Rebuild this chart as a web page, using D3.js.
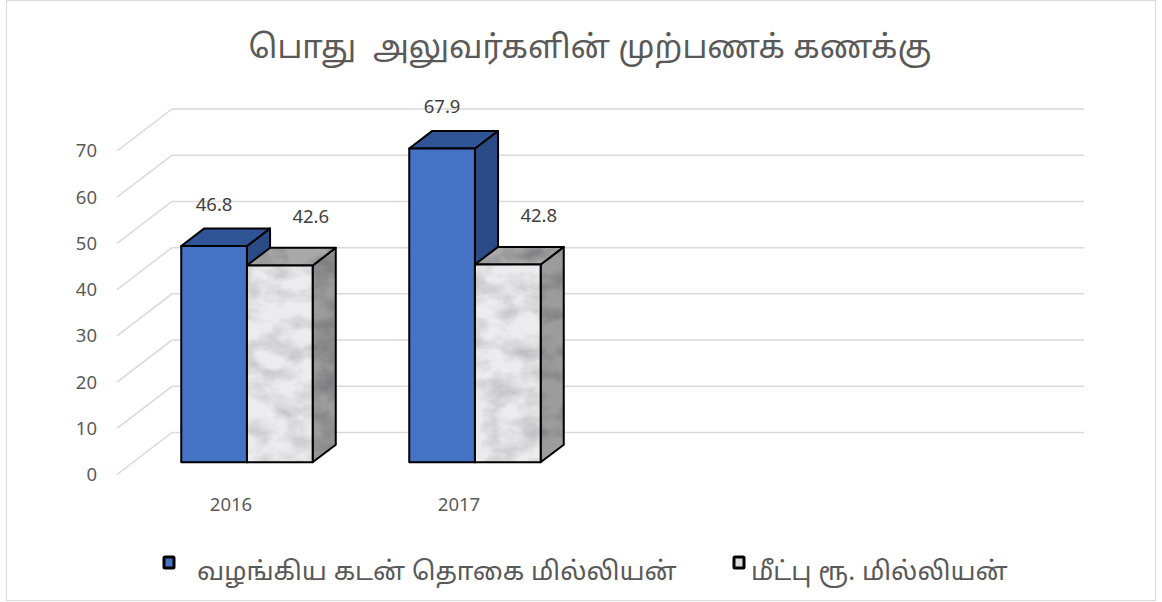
<!DOCTYPE html>
<html lang="ta">
<head>
<meta charset="utf-8">
<script src="https://cdn.jsdelivr.net/npm/d3@7"></script>
<title>பொது அலுவர்களின் முற்பணக் கணக்கு</title>
<style>
  body { margin: 0; background: #fff; }
  svg text { font-family: "Noto Sans Tamil", "Noto Sans", "Open Sans", sans-serif; fill: #595959; white-space: pre; }
</style>
</head>
<body>
<svg width="1162" height="602"></svg>
<script>
// data
var categories = ["2016", "2017", "", ""];
var seriesNames = ["வழங்கிய கடன் தொகை மில்லியன்", "மீட்பு ரூ. மில்லியன்"];
var loanValues = [46.8, 67.9];
var repayValues = [42.6, 42.8];
var yTicks = [0, 10, 20, 30, 40, 50, 60, 70];
var title = "பொது  அலுவர்களின் முற்பணக் கணக்கு";

var svg = d3.select("svg");

// chart frame
svg.append("rect")
  .attr("x", 6.5).attr("y", 0.5)
  .attr("width", 1149).attr("height", 600)
  .attr("fill", "#fff").attr("stroke", "#d9d9d9");

// marble blotches: dark noise with alpha, laid over a flat grey
var defs = svg.append("defs");
var f = defs.append("filter").attr("id", "marble")
  .attr("x", 0).attr("y", 0).attr("width", 1).attr("height", 1)
  .attr("color-interpolation-filters", "sRGB");
f.append("feTurbulence").attr("type", "fractalNoise")
  .attr("baseFrequency", "0.035 0.05").attr("numOctaves", 4).attr("seed", 11).attr("result", "n");
f.append("feColorMatrix").attr("in", "n").attr("type", "matrix")
  .attr("values", "0 0 0 0 0.25  0 0 0 0 0.25  0 0 0 0 0.27  1.6 0 0 0 -0.6").attr("result", "g");
f.append("feComposite").attr("in", "g").attr("in2", "SourceGraphic").attr("operator", "in");

// fake 3d: depth offsets of the walls
var DX = 55, DY = 42;
var x0 = d3.scaleBand().domain(d3.range(categories.length)).range([117, 1029]);
var x1 = d3.scaleBand().domain([0, 1]).range([0, x0.bandwidth()]).paddingOuter(0.735);
var y = d3.scaleLinear().domain([0, 70]).range([474.5, 151]);

function P(x, v, z) { return [x + z * DX, y(v) - z * DY]; }

var grid = svg.append("g");
yTicks.forEach(function(t) {
  var a = P(x0.range()[0], t, 0), b = P(x0.range()[0], t, 1), c = P(x0.range()[1], t, 1);
  grid.append("polyline")
    .attr("points", [a, b, c].map(function(p) { return p.join(","); }).join(" "))
    .attr("fill", "none").attr("stroke", "#d9d9d9").attr("stroke-width", 1.5);
});

// y axis labels
svg.append("g").selectAll("text").data(yTicks).enter().append("text")
  .attr("x", 97).attr("y", function(d) { return y(d); })
  .attr("dy", "0.35em").attr("text-anchor", "end")
  .attr("font-size", 18.5).text(function(d) { return d; });

// x axis labels
svg.append("g").selectAll("text").data(categories).enter().append("text")
  .attr("x", function(d, i) { return x0(i) + x0.bandwidth() / 2; })
  .attr("y", 505).attr("dy", "0.35em").attr("text-anchor", "middle")
  .attr("font-size", 18.5).text(function(d) { return d; });

// bars
var z0 = 0.29, z1 = 0.71;
var styles = [
  { front: "#4472c4", top: "#2f5597", side: "#2b4b86", tex: [0, 0, 0] },
  { front: "#ececee", top: "#a9a9a9", side: "#9c9c9c", tex: [0.45, 0.45, 0.3] }
];
var labelOff = [[0, -42], [31, -49]];

var bars = [];
categories.forEach(function(c, i) {
  [loanValues, repayValues].forEach(function(vals, s) {
    if (vals[i] != null) bars.push({ i: i, s: s, v: vals[i] });
  });
});

function poly(g, pts, fill, tex) {
  var str = pts.map(function(p) { return p.join(","); }).join(" ");
  g.append("polygon").attr("points", str).attr("fill", fill);
  if (tex > 0) {
    g.append("polygon").attr("points", str).attr("fill", "#000")
      .attr("filter", "url(#marble)").attr("opacity", tex);
  }
  g.append("polygon").attr("points", str)
    .attr("fill", "none").attr("stroke", "#000").attr("stroke-width", 2)
    .attr("stroke-linejoin", "round");
}

var barG = svg.append("g");
bars.forEach(function(d) {
  var xl = x0(d.i) + x1(d.s), xr = xl + x1.bandwidth();
  var st = styles[d.s];
  var g = barG.append("g");
  // side
  poly(g, [P(xr, 0, z0), P(xr, 0, z1), P(xr, d.v, z1), P(xr, d.v, z0)], st.side, st.tex[0]);
  // top
  poly(g, [P(xl, d.v, z0), P(xl, d.v, z1), P(xr, d.v, z1), P(xr, d.v, z0)], st.top, st.tex[1]);
  // front
  poly(g, [P(xl, 0, z0), P(xr, 0, z0), P(xr, d.v, z0), P(xl, d.v, z0)], st.front, st.tex[2]);
});

// value labels
svg.append("g").selectAll("text").data(bars).enter().append("text")
  .attr("x", function(d) { return P(x0(d.i) + x1(d.s) + x1.bandwidth() / 2, d.v, z0)[0] + labelOff[d.s][0]; })
  .attr("y", function(d) { return P(0, d.v, z0)[1] + labelOff[d.s][1]; })
  .attr("dy", "0.35em").attr("text-anchor", "middle")
  .attr("font-size", 18.5).style("fill", "#404040")
  .text(function(d) { return d.v.toFixed(1); });

// title
svg.append("text").attr("x", 590).attr("y", 47).attr("dy", "0.35em")
  .attr("text-anchor", "middle").attr("font-size", 32)
  .text(title);

// legend
var legX = [162, 732], legTextX = [197, 751];
var legendFills = ["#4472c4", "#dcdcdc"];
var leg = svg.append("g").selectAll("g").data(seriesNames).enter().append("g");
leg.append("rect")
  .attr("x", function(d, i) { return legX[i] + 2; }).attr("y", 557)
  .attr("width", 10).attr("height", 11).attr("rx", 1)
  .attr("fill", function(d, i) { return legendFills[i]; })
  .attr("stroke", "#000").attr("stroke-width", 3);
leg.append("text")
  .attr("x", function(d, i) { return legTextX[i]; }).attr("y", 571)
  .attr("dy", "0.35em").attr("font-size", 26)
  .text(function(d) { return d; });
</script>
</body>
</html>
